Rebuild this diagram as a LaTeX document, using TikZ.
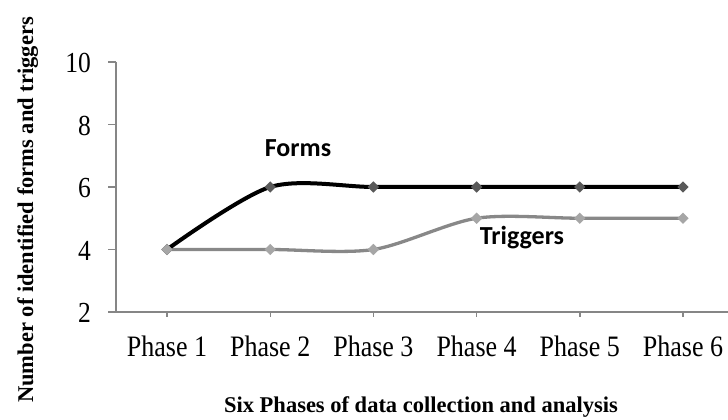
\documentclass[tikz,border=0pt]{standalone}
\usepackage{graphicx}
\usepackage{fontspec}
\setmainfont{Liberation Serif}
\newfontfamily\calfont{Carlito}
\usetikzlibrary{shapes.geometric}

\definecolor{axisgray}{RGB}{134,134,134}
\definecolor{formdot}{RGB}{89,89,89}
\definecolor{trigline}{RGB}{136,136,136}
\definecolor{trigdot}{RGB}{166,166,166}

\newcommand{\tall}[1]{\scalebox{1}[1.14]{#1}}

\begin{document}
\begin{tikzpicture}[x=1pt,y=1pt,
  axisline/.style={draw=axisgray,line width=1.4pt},
  ticklbl/.style={anchor=east,inner sep=0pt,font=\fontsize{25.5}{30}\selectfont},
  phaselbl/.style={anchor=base,inner sep=0pt,font=\fontsize{26}{30}\selectfont},
  fmark/.style={diamond,fill=formdot,inner sep=0pt,minimum size=11.5pt},
  tmark/.style={diamond,fill=trigdot,inner sep=0pt,minimum size=11.5pt},
  serieslbl/.style={anchor=base,inner sep=0pt,font=\calfont\bfseries\fontsize{26}{30}\selectfont}]
\useasboundingbox (0,0) rectangle (728,420);

% axes
\coordinate (o) at (116,108);
\coordinate (ytop) at (116,358);
\coordinate (xl) at (108,108);
\coordinate (xr) at (728,108);
\draw[axisline] (ytop) -- (o);
\draw[axisline] (xl) -- (xr);
\foreach \v [count=\i] in {2,4,6,8,10} {
  \coordinate (yt\i) at (116,{108+(\v-2)*31.25});
  \draw[axisline] (yt\i) -- ++(-8,0);
  \node[ticklbl] (yl\i) at ([xshift=-25pt,yshift=-1pt]yt\i) {\tall{\v}};
}
\foreach \i in {1,...,6} {
  \coordinate (xt\i) at ({167+103.2*(\i-1)},108);
  \draw[axisline] (xt\i) -- ++(0,-5);
  \node[phaselbl] (xl\i) at ([yshift=-45pt]xt\i) {\tall{Phase \i}};
}

% data points
\foreach \f [count=\i] in {4,6,6,6,6,6}
  \coordinate (f\i) at ({167+103.2*(\i-1)},{108+(\f-2)*31.25});
\foreach \t [count=\i] in {4,4,4,5,5,5}
  \coordinate (t\i) at ({167+103.2*(\i-1)},{108+(\t-2)*31.25});

\draw[trigline,line width=3.3pt,line join=round] plot[smooth,tension=0.5]
  coordinates {(t1) (t2) (t3) (t4) (t5) (t6)};
\draw[black,line width=4pt,line join=round] plot[smooth,tension=0.5]
  coordinates {(f1) (f2) (f3) (f4) (f5) (f6)};
\foreach \i in {1,...,6} {
  \node[tmark] (tm\i) at (t\i) {};
  \node[fmark] (fm\i) at (f\i) {};
}
\node[tmark] at (t1) {};

% labels
\node[serieslbl] (forms) at (298,263) {Forms};
\node[serieslbl] (trig) at (522,175) {Triggers};
\node[anchor=base,inner sep=0pt,font=\bfseries\fontsize{22.5}{26}\selectfont]
  (xtitle) at (421,7) {Six Phases of data collection and analysis};
\node[anchor=base,rotate=90,inner sep=0pt,font=\bfseries\fontsize{22.5}{26}\selectfont]
  (ytitle) at (33,210) {Number of identified forms and triggers};
\end{tikzpicture}
\end{document}
